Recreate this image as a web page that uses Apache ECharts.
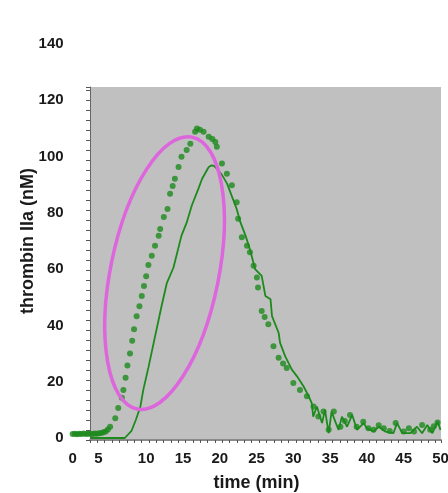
<!DOCTYPE html>
<html>
<head>
<meta charset="utf-8">
<script src="https://cdn.jsdelivr.net/npm/echarts/dist/echarts.min.js"></script>
<style>
  html, body { margin: 0; padding: 0; background: #fff; }
  #chart { width: 448px; height: 493px; }
</style>
</head>
<body>
<div id="chart"></div>
<script>
// dotted trace (large markers)
var dotTime = [0, 0.3, 0.6, 0.9, 1.2, 1.5, 1.8, 2.1, 2.4, 2.7, 3.0, 3.3, 3.6, 3.9, 4.2, 4.5, 4.8,
  5.1, 5.8, 6.2, 6.7, 6.9, 7.2, 7.45, 7.8, 8.1, 8.35, 8.7, 9.08, 9.4, 9.7, 10.0, 10.3, 10.76,
  11.2, 11.7, 11.9, 12.4, 12.9, 13.25, 13.6, 13.9, 14.4, 14.8, 15.5, 16.0, 16.65, 16.9, 17.3,
  17.8, 18.5, 19.0, 19.4, 19.6, 20.3, 20.97, 21.65, 22.3, 22.5, 23.0, 23.7, 24.1, 24.6, 25.05,
  25.2, 25.7, 26.1, 26.6, 27.3, 28.0, 28.6, 29.1, 30.0, 30.9, 31.85, 32.75, 33.4, 34.1, 34.8,
  35.5, 36.4, 37.0, 37.7, 38.6, 39.5, 40.2, 40.9, 41.6, 42.3, 43.1, 43.9, 45.0, 45.7, 46.4,
  47.5, 48.6, 49.1, 49.6];
var dotValue = [1.4, 1.5, 1.3, 1.5, 1.4, 1.6, 1.4, 1.5, 1.5, 1.4, 1.6, 1.5, 1.7, 1.8, 2.0, 2.3, 3.0,
  4.0, 7.0, 10.7, 14.3, 17.1, 21.4, 25.8, 30.0, 34.6, 38.6, 43.3, 46.8, 50.5, 54, 57.5, 61.5, 64.8,
  68.3, 71.9, 74.3, 78.5, 81.4, 86.8, 89.5, 92.1, 96.3, 99.9, 102.3, 104.6, 108.8, 110.0, 109.5,
  108.8, 107.0, 106.2, 105.2, 103.5, 97.5, 93.9, 89.8, 83.8, 77.9, 71.3, 68.3, 66.0, 61.2, 57.0,
  53.5, 45.1, 43, 40.4, 32.6, 28.5, 26.5, 24.9, 19.5, 17.1, 14.8, 11.2, 7.6, 9.4, 2.9,
  9.4, 4.0, 6.0, 8.2, 4.0, 5.8, 3.5, 2.9, 4.5, 3.5, 2.5, 5.3, 2.3, 3.5, 2.3,
  4.6, 2.9, 4.2, 5.5];

// solid trace
var lineTime = [2.5, 7.1, 8.0, 8.6, 9.2, 9.6, 10.3, 11.2, 12.1, 12.8, 13.7, 14.8, 15.5, 16.2,
  17.1, 17.6, 18.5, 18.9, 19.2, 19.6, 20.3, 21.0, 21.6, 22.3, 22.8, 23.5, 24.1,
  24.8, 25.7, 26.2, 26.9, 27.1, 28.0, 28.2, 28.9, 29.8, 30.5, 31.4, 32.1, 32.5, 32.7, 33.2, 33.9,
  34.3, 34.8, 35.2, 35.7, 36.15, 36.6, 37.3, 38.0, 38.65, 39.55, 40.0, 40.9, 41.6, 42.5, 43.6,
  44.1, 44.8, 45.9, 46.8, 47.5, 48.2, 48.9, 49.6, 50];
var lineValue = [0, 0, 2.5, 6.5, 11, 17, 25, 36, 47, 55, 60.5, 71.9, 76.5, 82.6,
  88.6, 92.1, 96.3, 96.9, 96.7, 95.7, 93.5, 90.4, 86.2, 81.4, 76.7, 71.9, 67.1,
  60, 57.6, 50.5, 49.3, 43.3, 37.4, 33.8, 29, 24.3, 21.9, 18.3, 14.8, 12.4, 7.6, 11.2, 5.3,
  10, 1.7, 9.4, 5.8, 2.9, 7.6, 4, 8.2, 2.9, 5.3, 3.5, 2.3, 4, 2.3, 1.7,
  5.3, 1.7, 1.7, 4, 1.7, 4.6, 1.7, 5.8, 2.9];

// highlight ellipse: centre, end of long axis, end of short axis (time, nM)
var ellipseCenter = [12.5, 58.6];
var ellipseTop = [16.24, 106.9];
var ellipseSide = [19.7, 54.7];

var xTicks = [0, 50, 5];
var yTicks = [0, 140, 20];

var dotData = dotTime.map(function (t, i) { return [t, dotValue[i]]; });
var lineData = lineTime.map(function (t, i) { return [t, lineValue[i]]; });

var green = "#1c8a1c";
var fontFam = "Liberation Sans, Arial";
var labelFont = { color: "#1a1a1a", fontSize: 15, fontWeight: "bold", fontFamily: fontFam };

var myChart = echarts.init(document.getElementById("chart"));
var option = {
  backgroundColor: "#fff",
  animation: false,
  grid: [
    { left: 72.6, right: 7.5, top: 44, bottom: 55, outerBoundsMode: "none", containLabel: false },
    // grey plotting frame
    { left: 90, right: 7, top: 87, bottom: 53, show: true, backgroundColor: "#c0c0c0", borderWidth: 0,
      outerBoundsMode: "none", containLabel: false },
  ],
  xAxis: [
    {
      type: "value",
      gridIndex: 0,
      min: xTicks[0],
      max: xTicks[1],
      interval: xTicks[2],
      name: "time (min)",
      nameLocation: "middle",
      nameGap: 36,
      nameMoveOverlap: false,
      nameTextStyle: { color: "#1a1a1a", fontSize: 18, fontWeight: "bold", fontFamily: fontFam },
      axisLine: { show: false },
      axisTick: { show: false },
      splitLine: { show: false },
      axisLabel: Object.assign({
        margin: 13,
        formatter: function (v) { return v === 5 ? "{s|5}" : String(v); },
        rich: { s: { fontSize: 15, fontWeight: "bold", color: "#1a1a1a", fontFamily: fontFam, padding: [0, 22, 0, 0] } },
      }, labelFont),
    },
    {
      type: "value",
      gridIndex: 1,
      min: 0,
      max: 47.75,
      interval: 1,
      axisLabel: { show: false },
      splitLine: { show: false },
      axisLine: { show: true, lineStyle: { color: "#8a8a8a", width: 2 } },
      axisTick: { show: true, length: 3, lineStyle: { color: "#555" } },
    },
  ],
  yAxis: [
    {
      type: "value",
      gridIndex: 0,
      min: yTicks[0],
      max: yTicks[1],
      interval: yTicks[2],
      name: "thrombin IIa (nM)",
      nameLocation: "middle",
      nameGap: 36,
      nameMoveOverlap: false,
      nameTextStyle: { color: "#1a1a1a", fontSize: 18, fontWeight: "bold", fontFamily: fontFam },
      axisLine: { show: false },
      axisTick: { show: false },
      splitLine: { show: false },
      axisLabel: Object.assign({ margin: 9 }, labelFont),
    },
    {
      type: "value",
      gridIndex: 1,
      min: 0,
      max: 35.3,
      interval: 1,
      axisLabel: { show: false },
      splitLine: { show: false },
      axisLine: { show: true, lineStyle: { color: "#666", width: 1 } },
      axisTick: { show: true, length: 4, lineStyle: { color: "#555" } },
    },
  ],
  series: [
    {
      type: "line",
      xAxisIndex: 0,
      yAxisIndex: 0,
      data: lineData,
      showSymbol: false,
      lineStyle: { color: green, width: 1.8 },
      z: 3,
    },
    {
      type: "scatter",
      xAxisIndex: 0,
      yAxisIndex: 0,
      data: dotData,
      symbol: "circle",
      symbolSize: 6,
      itemStyle: { color: green },
      z: 4,
    },
    {
      type: "custom",
      xAxisIndex: 0,
      yAxisIndex: 0,
      data: [[ellipseCenter[0], ellipseCenter[1], ellipseTop[0], ellipseTop[1], ellipseSide[0], ellipseSide[1]]],
      encode: { x: [0, 2, 4], y: [1, 3, 5] },
      z: 5,
      renderItem: function (params, api) {
        var c = api.coord([api.value(0), api.value(1)]);
        var p = api.coord([api.value(2), api.value(3)]);
        var q = api.coord([api.value(4), api.value(5)]);
        var dx = p[0] - c[0], dy = p[1] - c[1];
        var a = Math.sqrt(dx * dx + dy * dy);
        var b = Math.sqrt((q[0] - c[0]) * (q[0] - c[0]) + (q[1] - c[1]) * (q[1] - c[1]));
        return {
          type: "ellipse",
          x: c[0],
          y: c[1],
          rotation: Math.atan2(-dy, dx),
          shape: { cx: 0, cy: 0, rx: a, ry: b },
          style: { fill: "none", stroke: "#dd66dd", lineWidth: 3.5 },
        };
      },
    },
  ],
};
myChart.setOption(option);
</script>
</body>
</html>
